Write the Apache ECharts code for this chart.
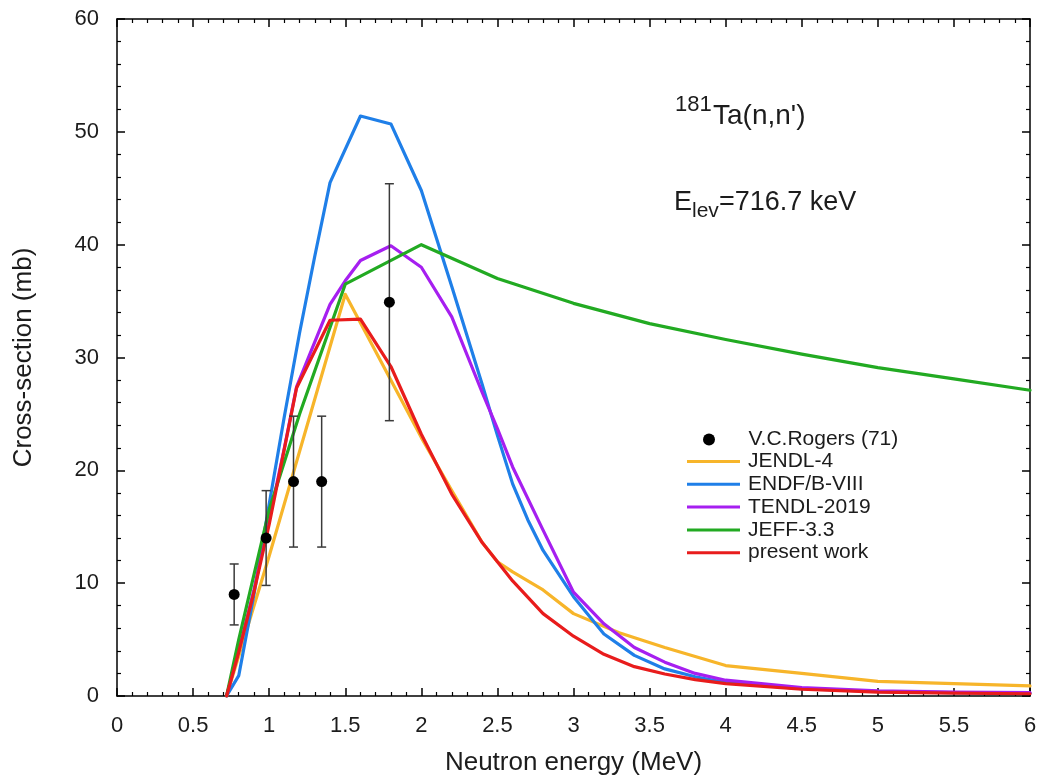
<!DOCTYPE html>
<html>
<head>
<meta charset="utf-8">
<title>181Ta(n,n') cross-section</title>
<script src="https://cdn.jsdelivr.net/npm/echarts@6/dist/echarts.min.js"></script>
<style>
  html, body { margin: 0; padding: 0; background: #ffffff; }
  #chart { width: 1040px; height: 782px; }
</style>
</head>
<body>
<div id="chart"></div>
<script>
// Measured points: V.C.Rogers (1971)
const rogersEnergy = [0.77, 0.98, 1.16, 1.345, 1.79];
const rogersSigma  = [9.0, 14.0, 19.0, 19.0, 34.9];
const rogersError  = [2.7, 4.2, 5.8, 5.8, 10.5];

// Evaluated libraries and model calculation: [energy (MeV), cross-section (mb)]
const jendl4 = [
  [0.72, 0], [1.0, 12.4], [1.5, 35.6], [2.0, 22.9], [2.2, 18.2], [2.4, 13.6],
  [2.5, 11.9], [2.6, 11.0], [2.8, 9.4], [3.0, 7.3], [3.3, 5.6], [3.6, 4.3],
  [4.0, 2.7], [4.5, 2.0], [5.0, 1.3], [5.5, 1.1], [6.0, 0.9]
];
const endfb8 = [
  [0.72, 0], [0.8, 1.8], [0.9, 9.0], [1.0, 17.0], [1.1, 24.8], [1.2, 32.2],
  [1.3, 39.0], [1.4, 45.5], [1.6, 51.4], [1.8, 50.7], [2.0, 44.8], [2.2, 36.3],
  [2.4, 27.6], [2.5, 23.1], [2.6, 18.8], [2.7, 15.6], [2.8, 12.9], [3.0, 8.8],
  [3.2, 5.5], [3.4, 3.6], [3.6, 2.4], [3.8, 1.7], [4.0, 1.2], [4.5, 0.65],
  [5.0, 0.4], [5.5, 0.3], [6.0, 0.25]
];
const tendl2019 = [
  [0.72, 0], [0.8, 4.0], [0.9, 9.4], [1.0, 15.6], [1.1, 22.0], [1.18, 27.4],
  [1.4, 34.7], [1.5, 36.8], [1.6, 38.6], [1.8, 39.9], [2.0, 38.0], [2.2, 33.6],
  [2.4, 26.9], [2.5, 23.7], [2.6, 20.3], [2.8, 14.7], [3.0, 9.2], [3.2, 6.4],
  [3.4, 4.3], [3.6, 3.0], [3.8, 2.0], [4.0, 1.4], [4.5, 0.75], [5.0, 0.45],
  [5.5, 0.35], [6.0, 0.3]
];
const jeff33 = [
  [0.72, 0], [0.8, 5.0], [1.0, 16.5], [1.2, 25.0], [1.5, 36.5], [2.0, 40.0],
  [2.5, 37.0], [3.0, 34.8], [3.5, 33.0], [4.0, 31.6], [4.5, 30.3], [5.0, 29.1],
  [5.5, 28.1], [6.0, 27.1]
];
const presentWork = [
  [0.72, 0], [0.8, 3.9], [0.9, 9.2], [1.0, 15.2], [1.1, 21.9], [1.18, 27.3],
  [1.4, 33.3], [1.6, 33.4], [1.8, 29.2], [2.0, 23.2], [2.2, 17.9], [2.4, 13.6],
  [2.6, 10.2], [2.8, 7.3], [3.0, 5.3], [3.2, 3.7], [3.4, 2.6], [3.6, 1.95],
  [3.8, 1.45], [4.0, 1.1], [4.5, 0.6], [5.0, 0.35], [5.5, 0.25], [6.0, 0.2]
];

const seriesNames = ['V.C.Rogers (71)', 'JENDL-4', 'ENDF/B-VIII', 'TENDL-2019', 'JEFF-3.3', 'present work'];
const seriesColors = ['#000000', '#f7b52a', '#1f7fe8', '#a61ff0', '#22aa22', '#e81c1c'];

const FONT = "'Liberation Sans', Arial, Helvetica, sans-serif";
const INK = '#1c1c1c';

const rogersPoints = rogersEnergy.map((e, i) => [e, rogersSigma[i]]);
const rogersBars = rogersEnergy.map((e, i) => [e, rogersSigma[i] - rogersError[i], rogersSigma[i] + rogersError[i]]);

function frameAxis(base, extra) {
  return Object.assign({
    type: 'value',
    axisLine: { show: true, onZero: false, lineStyle: { color: '#000', width: 1.5 } },
    axisTick: { show: true, inside: true, length: 8, lineStyle: { color: '#000', width: 1.5 } },
    minorTick: { show: true, splitNumber: 5, length: 4, lineStyle: { color: '#000', width: 1.2 } },
    splitLine: { show: false },
    minorSplitLine: { show: false }
  }, base, extra);
}

const chart = echarts.init(document.getElementById('chart'), null, { renderer: 'canvas' });

const lineSeries = [jendl4, endfb8, tendl2019, jeff33, presentWork].map((d, i) => ({
  name: seriesNames[i + 1],
  type: 'line',
  data: d,
  symbol: 'none',
  smooth: false,
  z: 3,
  lineStyle: { color: seriesColors[i + 1], width: 3.2, join: 'round', cap: 'round' },
  itemStyle: { color: seriesColors[i + 1] },
  emphasis: { disabled: true }
}));

chart.setOption({
  animation: false,
  backgroundColor: '#ffffff',
  textStyle: { fontFamily: FONT },
  grid: { left: 117, right: 10, top: 19, bottom: 86, containLabel: false },
  xAxis: [
    frameAxis({ min: 0, max: 6, interval: 0.5, position: 'bottom' }, {
      name: 'Neutron energy (MeV)',
      nameLocation: 'middle',
      nameGap: 54,
      nameTextStyle: { fontSize: 26, color: INK, fontFamily: FONT },
      axisLabel: { fontSize: 22, color: INK, margin: 19, fontFamily: FONT }
    }),
    frameAxis({ min: 0, max: 6, interval: 0.5, position: 'top' }, {
      axisLabel: { show: false }
    })
  ],
  yAxis: [
    frameAxis({ min: 0, max: 60, interval: 10, position: 'left' }, {
      name: 'Cross-section (mb)',
      nameLocation: 'middle',
      nameGap: 80,
      nameTextStyle: { fontSize: 26, color: INK, fontFamily: FONT },
      axisLabel: { fontSize: 22, color: INK, margin: 18, fontFamily: FONT }
    }),
    frameAxis({ min: 0, max: 60, interval: 10, position: 'right' }, {
      axisLabel: { show: false }
    })
  ],
  legend: [
    {
      left: 698,
      top: 424,
      orient: 'vertical',
      itemWidth: 53,
      itemHeight: 12,
      selectedMode: false,
      textStyle: { fontSize: 21, color: INK, fontFamily: FONT, lineHeight: 21, padding: [0, 0, 0, 8] },
      data: [{ name: seriesNames[0], icon: 'circle' }]
    },
    {
      left: 682,
      top: 446,
      orient: 'vertical',
      itemWidth: 53,
      itemHeight: 3,
      itemGap: 1.8,
      selectedMode: false,
      textStyle: { fontSize: 21, color: INK, fontFamily: FONT, lineHeight: 21, padding: [0, 0, 0, 3] },
      data: seriesNames.slice(1).map((n) => ({ name: n, icon: 'rect' }))
    }
  ],
  series: lineSeries.concat([
    {
      name: 'V.C.Rogers (71) errors',
      type: 'custom',
      z: 4,
      silent: true,
      data: rogersBars,
      encode: { x: 0, y: [1, 2] },
      renderItem: function (params, api) {
        const x = api.value(0);
        const lo = api.coord([x, api.value(1)]);
        const hi = api.coord([x, api.value(2)]);
        const cap = 4.5;
        const style = { stroke: '#3a3a3a', lineWidth: 1.5, fill: null };
        return {
          type: 'group',
          children: [
            { type: 'line', shape: { x1: lo[0], y1: lo[1], x2: hi[0], y2: hi[1] }, style: style },
            { type: 'line', shape: { x1: lo[0] - cap, y1: lo[1], x2: lo[0] + cap, y2: lo[1] }, style: style },
            { type: 'line', shape: { x1: hi[0] - cap, y1: hi[1], x2: hi[0] + cap, y2: hi[1] }, style: style }
          ]
        };
      }
    },
    {
      name: seriesNames[0],
      type: 'scatter',
      z: 5,
      data: rogersPoints,
      symbol: 'circle',
      symbolSize: 11,
      itemStyle: { color: '#000000', opacity: 1 },
      emphasis: { disabled: true }
    }
  ]),
  graphic: [
    { type: 'text', x: 675, y: 105, style: { text: '181', font: "22px " + FONT, fill: INK, verticalAlign: 'middle' } },
    { type: 'text', x: 713, y: 116, style: { text: "Ta(n,n')", font: "28px " + FONT, fill: INK, verticalAlign: 'middle' } },
    { type: 'text', x: 674, y: 203, style: { text: 'E', font: "27px " + FONT, fill: INK, verticalAlign: 'middle' } },
    { type: 'text', x: 692, y: 211, style: { text: 'lev', font: "21px " + FONT, fill: INK, verticalAlign: 'middle' } },
    { type: 'text', x: 719, y: 203, style: { text: '=716.7 keV', font: "27px " + FONT, fill: INK, verticalAlign: 'middle' } }
  ]
});
</script>
</body>
</html>
